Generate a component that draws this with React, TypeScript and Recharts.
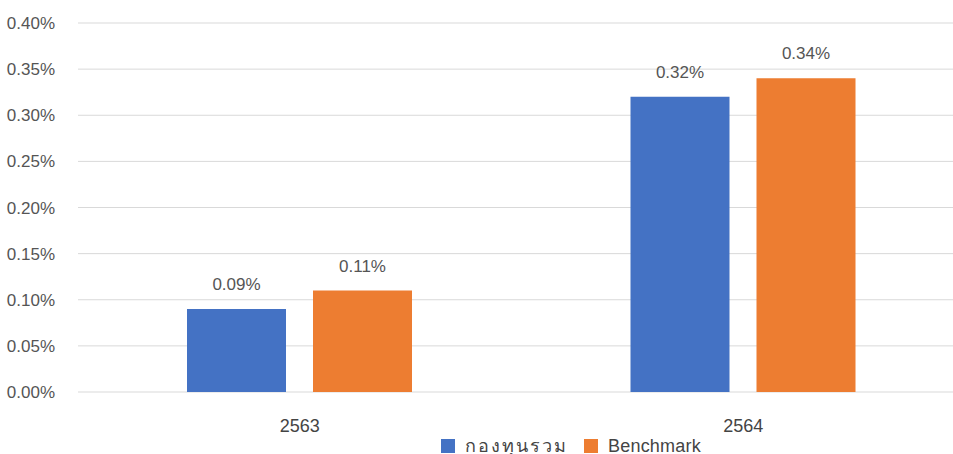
import { BarChart, Bar, XAxis, YAxis, CartesianGrid, Legend, LabelList } from "recharts";

const YEARS = ["2563", "2564"];
const FUND_RETURNS = [0.09, 0.32];
const BENCHMARK_RETURNS = [0.11, 0.34];
const Y_TICKS = [0, 0.05, 0.1, 0.15, 0.2, 0.25, 0.3, 0.35, 0.4];

const SERIES = [
  { key: "fund", name: "กองทุนรวม", color: "#4472C4", spacing: 2 },
  { key: "benchmark", name: "Benchmark", color: "#ED7D31", spacing: 0.2 },
];

const data = YEARS.map((year, i) => ({
  year,
  fund: FUND_RETURNS[i],
  benchmark: BENCHMARK_RETURNS[i],
}));

const FONT = '"Liberation Sans", Arial, "Noto Sans", sans-serif';
const pct = (v: number) => `${v.toFixed(2)}%`;

function LegendBox() {
  return (
    <div style={{ display: "flex", alignItems: "flex-start", fontFamily: FONT, fontSize: 18, color: "#444" }}>
      {SERIES.map((s) => (
        <div key={s.key} style={{ display: "flex", alignItems: "flex-start", marginRight: 16, lineHeight: "20px" }}>
          <span style={{ width: 14, height: 14, background: s.color, marginTop: 3, marginRight: 10 }} />
          <span style={{ letterSpacing: s.spacing }}>{s.name}</span>
        </div>
      ))}
    </div>
  );
}

export default function App() {
  return (
    <div
      style={{
        position: "absolute",
        left: 0,
        top: 0,
        width: 953,
        height: 454,
        overflow: "hidden",
        background: "#fff",
      }}
    >
      <BarChart
        width={975}
        height={454}
        data={data}
        margin={{ top: 23, right: 10, left: 0, bottom: 22 }}
        barSize={99}
        barGap={27}
      >
        <CartesianGrid vertical={false} stroke="#d9d9d9" />
        <XAxis
          dataKey="year"
          height={40}
          axisLine={false}
          tickLine={false}
          tickSize={0}
          tickMargin={27}
          tick={{ fontSize: 18, fill: "#444", fontFamily: FONT }}
        />
        <YAxis
          width={78}
          domain={[0, 0.4]}
          ticks={Y_TICKS}
          tickFormatter={pct}
          axisLine={false}
          tickLine={false}
          tickSize={0}
          tickMargin={23}
          tick={{ fontSize: 17, fill: "#555", fontFamily: FONT }}
        />
        <Legend
          layout="horizontal"
          verticalAlign="middle"
          align="center"
          content={() => <LegendBox />}
          wrapperStyle={{ left: 441, top: 436, width: "auto", height: "auto" }}
        />
        {SERIES.map((s) => (
          <Bar key={s.key} dataKey={s.key} name={s.name} fill={s.color} isAnimationActive={false}>
            <LabelList
              dataKey={s.key}
              position="top"
              offset={19}
              formatter={(v: number) => pct(v)}
              style={{ fontSize: 17, fill: "#555", fontFamily: FONT }}
            />
          </Bar>
        ))}
      </BarChart>
    </div>
  );
}
